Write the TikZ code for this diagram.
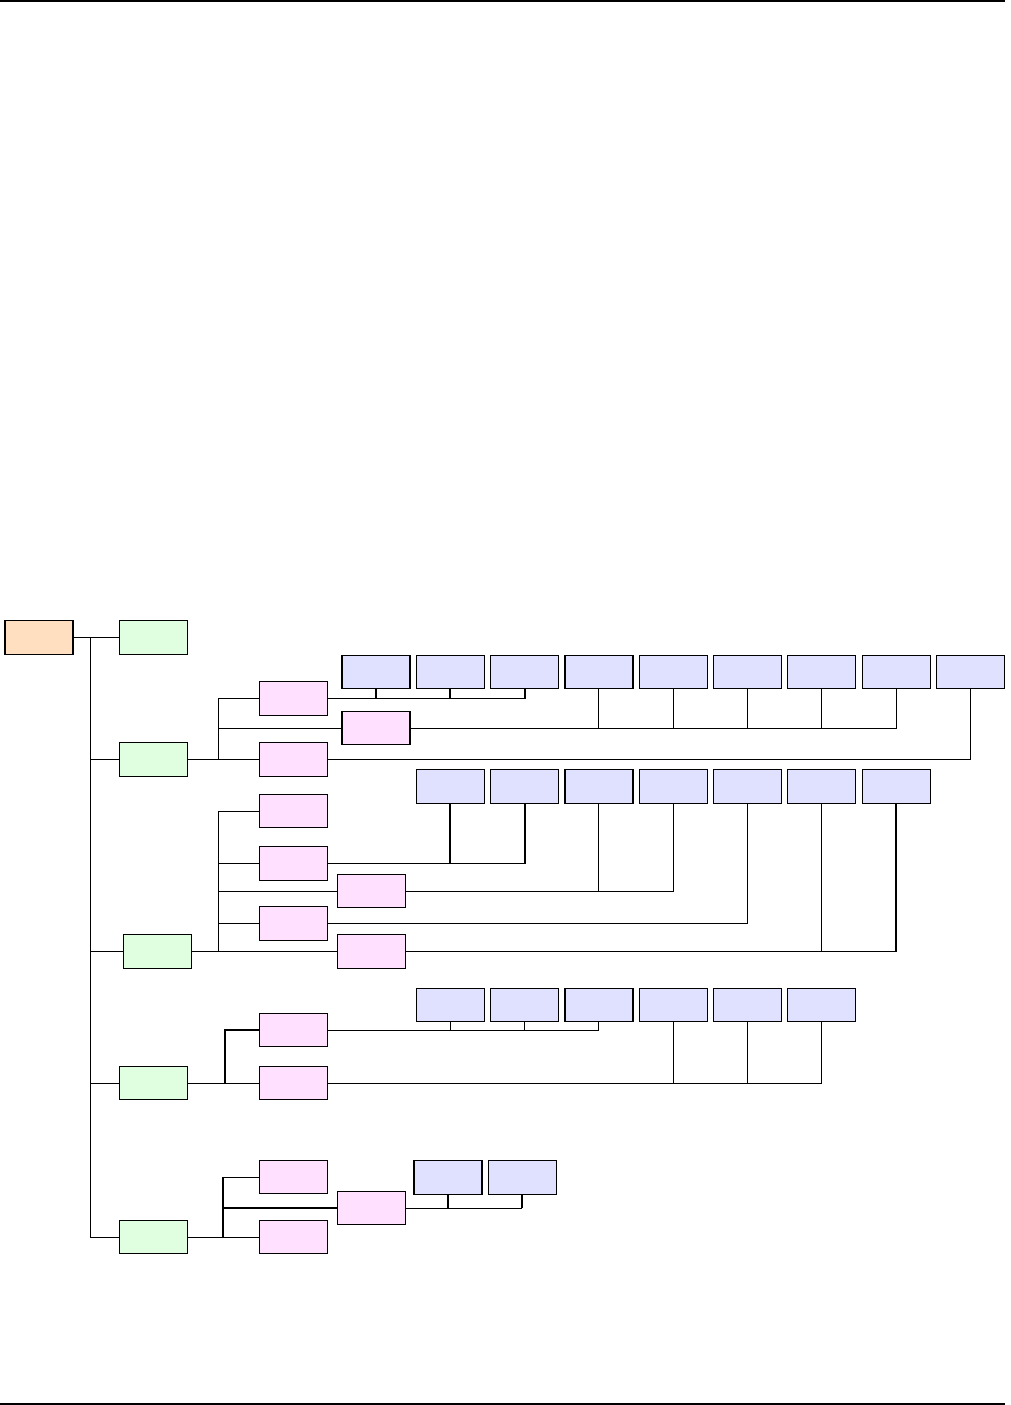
\documentclass[tikz,border=0pt]{standalone}
\usepackage{tikz}
\usetikzlibrary{positioning}
\definecolor{rootfill}{HTML}{FFDFC0}
\definecolor{grpfill}{HTML}{E0FFE0}
\definecolor{subfill}{HTML}{FFE0FF}
\definecolor{leaffill}{HTML}{E0E0FF}
\begin{document}
\begin{tikzpicture}[x=1pt, y=-1pt, node distance=6.3pt,
  box/.style={draw, line width=1.2pt, outer sep=0pt, inner sep=0pt, minimum width=68pt, minimum height=33.5pt},
  rootbox/.style={box, fill=rootfill},
  grpbox/.style={box, fill=grpfill},
  subbox/.style={box, fill=subfill},
  leafbox/.style={box, fill=leaffill},
  wire/.style={line width=0.9pt},
  bus/.style={line width=1.8pt}]
\useasboundingbox (0,0) rectangle (1010,1405);
\draw[line width=1.2pt] (0,1) -- (1005,1);
\draw[line width=1.2pt] (0,1404) -- (1005,1404);
% root and groups
\node[rootbox] (root) at (39,637.5) {};
\node[grpbox] (grpa) at (153.5,637.5) {};
\node[grpbox] (grpb) at (153.5,759.5) {};
\node[grpbox] (grpc) at (157.5,951.5) {};
\node[grpbox] (grpd) at (153.5,1083) {};
\node[grpbox] (grpe) at (153.5,1237) {};
\coordinate (trunk) at (90,0);
% group b
\node[subbox] (b1) at (293.5,698.5) {};
\node[subbox] (b2) at (376,728) {};
\node[subbox] (b3) at (293.5,759.5) {};
\node[leafbox] (b11) at (376,672) {};
\node[leafbox, right=of b11] (b12) {};
\node[leafbox, right=of b12] (b13) {};
\node[leafbox, right=of b13] (b21) {};
\node[leafbox, right=of b21] (b22) {};
\node[leafbox, right=of b22] (b23) {};
\node[leafbox, right=of b23] (b24) {};
\node[leafbox, right=of b24] (b25) {};
\node[leafbox, right=of b25] (b31) {};
% group c
\node[subbox] (c1) at (293.5,811) {};
\node[subbox] (c2) at (293.5,863.5) {};
\node[subbox] (c3) at (371.5,891) {};
\node[subbox] (c4) at (293.5,923.5) {};
\node[subbox] (c5) at (371.5,951.5) {};
\node[leafbox] (c21) at (450.3,786.5) {};
\node[leafbox, right=of c21] (c22) {};
\node[leafbox, right=of c22] (c31) {};
\node[leafbox, right=of c31] (c32) {};
\node[leafbox, right=of c32] (c41) {};
\node[leafbox, right=of c41] (c51) {};
\node[leafbox, right=of c51] (c52) {};
% group d
\node[subbox] (d1) at (293.5,1030) {};
\node[subbox] (d2) at (293.5,1083) {};
\node[leafbox] (d11) at (450.3,1005) {};
\node[leafbox, right=of d11] (d12) {};
\node[leafbox, right=of d12] (d13) {};
\node[leafbox, right=of d13] (d21) {};
\node[leafbox, right=of d21] (d22) {};
\node[leafbox, right=of d22] (d23) {};
% group e
\node[subbox] (e1) at (293.5,1177) {};
\node[subbox] (e2) at (371.5,1208) {};
\node[subbox] (e3) at (293.5,1237) {};
\node[leafbox] (e21) at (448,1177.5) {};
\node[leafbox, right=of e21] (e22) {};
% trunk
\draw[wire] (root) -- (grpa);
\draw[wire] (trunk |- root.east) |- (grpe.west);
\draw[wire] (trunk |- grpb.west) -- (grpb.west);
\draw[bus] (trunk |- grpc.west) -- (grpc.west);
\draw[wire] (trunk |- grpd.west) -- (grpd.west);
% group b links
\coordinate (jb) at (218,0);
\draw[bus] (grpb.east) -- (b3.west);
\draw[wire] (b1.west) -- (b1.west -| jb) -- (jb |- b3.west);
\draw[wire] (jb |- b2.west) -- (b2.west);
\draw[bus] (b1.east) -- (b1.east -| b13.south) -- (b13.south);
\draw[bus] (b11.south) -- (b11.south |- b1.east);
\draw[bus] (b12.south) -- (b12.south |- b1.east);
\draw[wire] (b2.east) -- (b2.east -| b25.south) -- (b25.south);
\draw[wire] (b21.south) -- (b21.south |- b2.east);
\draw[wire] (b22.south) -- (b22.south |- b2.east);
\draw[bus] (b23.south) -- (b23.south |- b2.east);
\draw[wire] (b24.south) -- (b24.south |- b2.east);
\draw[bus] (b3.east) -- (b3.east -| b31.south) -- (b31.south);
% group c links
\coordinate (jc) at (218,0);
\draw[bus] (grpc.east) -- (c5.west);
\draw[wire] (c1.west) -- (c1.west -| jc) -- (jc |- c5.west);
\draw[wire] (jc |- c2.west) -- (c2.west);
\draw[wire] (jc |- c3.west) -- (c3.west);
\draw[wire] (jc |- c4.west) -- (c4.west);
\draw[bus] (c2.east) -- (c2.east -| c22.south) -- (c22.south);
\draw[bus] (c21.south) -- (c21.south |- c2.east);
\draw[wire] (c3.east) -- (c3.east -| c32.south) -- (c32.south);
\draw[wire] (c31.south) -- (c31.south |- c3.east);
\draw[bus] (c4.east) -- (c4.east -| c41.south) -- (c41.south);
\draw[bus] (c5.east) -- (c5.east -| c52.south) -- (c52.south);
\draw[wire] (c51.south) -- (c51.south |- c5.east);
% group d links
\coordinate (jd) at (225,0);
\draw[wire] (grpd.east) -- (d2.west);
\draw[bus] (d1.west) -- (d1.west -| jd) -- (jd |- d2.west);
\draw[wire] (d1.east) -- (d1.east -| d13.south) -- (d13.south);
\draw[wire] (d11.south) -- (d11.south |- d1.east);
\draw[wire] (d12.south) -- (d12.south |- d1.east);
\draw[wire] (d2.east) -- (d2.east -| d23.south) -- (d23.south);
\draw[wire] (d21.south) -- (d21.south |- d2.east);
\draw[wire] (d22.south) -- (d22.south |- d2.east);
% group e links
\coordinate (je) at (223,0);
\draw[wire] (grpe.east) -- (e3.west);
\draw[wire] (e1.west) -- (e1.west -| je);
\draw[bus] (je |- e1.west) -- (je |- e3.west);
\draw[bus] (je |- e2.west) -- (e2.west);
\draw[wire] (e2.east) -- (e2.east -| e22.south);
\draw[bus] (e21.south) -- (e21.south |- e2.east);
\draw[bus] (e22.south) -- (e22.south |- e2.east);
\end{tikzpicture}
\end{document}
